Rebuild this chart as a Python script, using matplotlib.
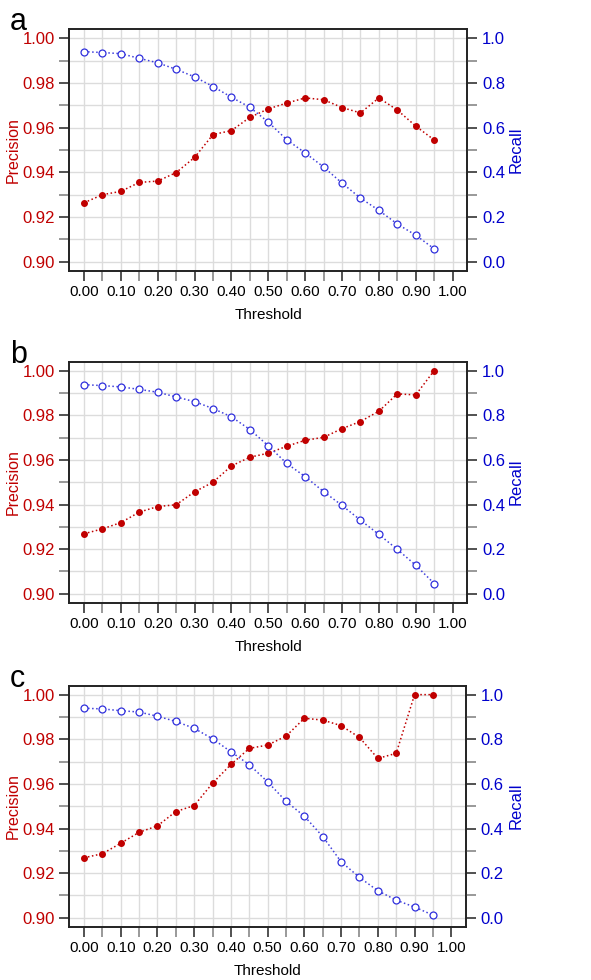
import numpy as np
import matplotlib
matplotlib.use("Agg")
import matplotlib.pyplot as plt
from matplotlib.ticker import MultipleLocator, FormatStrFormatter

plt.rcParams['font.family'] = ['Liberation Sans', 'DejaVu Sans']

# thresholds
threshold = [0.00, 0.05, 0.10, 0.15, 0.20, 0.25, 0.30, 0.35, 0.40, 0.45,
             0.50, 0.55, 0.60, 0.65, 0.70, 0.75, 0.80, 0.85, 0.90, 0.95]

# panel a
prec_a = [0.9264, 0.9300, 0.9315, 0.9355, 0.9361, 0.9399, 0.9467, 0.9569, 0.9587, 0.9646,
          0.9684, 0.9710, 0.9733, 0.9725, 0.9690, 0.9666, 0.9733, 0.9679, 0.9607, 0.9545]
rec_a = [0.940, 0.936, 0.931, 0.910, 0.890, 0.861, 0.827, 0.784, 0.736, 0.691,
         0.625, 0.546, 0.487, 0.424, 0.352, 0.285, 0.230, 0.169, 0.119, 0.058]

# panel b
prec_b = [0.9269, 0.9291, 0.9319, 0.9366, 0.9391, 0.9399, 0.9457, 0.9500, 0.9573, 0.9612,
          0.9630, 0.9661, 0.9688, 0.9701, 0.9740, 0.9772, 0.9818, 0.9896, 0.9891, 1.0000]
rec_b = [0.937, 0.933, 0.927, 0.916, 0.903, 0.882, 0.861, 0.830, 0.793, 0.736,
         0.663, 0.584, 0.525, 0.458, 0.396, 0.330, 0.266, 0.199, 0.128, 0.046]

# panel c
prec_c = [0.9269, 0.9287, 0.9334, 0.9383, 0.9412, 0.9476, 0.9503, 0.9603, 0.9687, 0.9759,
          0.9774, 0.9814, 0.9894, 0.9886, 0.9861, 0.9808, 0.9714, 0.9737, 1.0000, 1.0000]
rec_c = [0.939, 0.936, 0.928, 0.922, 0.903, 0.880, 0.849, 0.802, 0.744, 0.686,
         0.609, 0.522, 0.455, 0.364, 0.251, 0.181, 0.121, 0.079, 0.048, 0.012]

panels = [("a", prec_a, rec_a), ("b", prec_b, rec_b), ("c", prec_c, rec_c)]
# axes boxes in pixels (left, top, right, bottom) for a 591x980 figure
boxes = [(69.3, 29.3, 467.3, 270.7), (69.3, 361.7, 467.3, 602.7), (69.3, 685.7, 466.0, 926.7)]

RED = "#C00000"
BLUE = "#0000CC"
W, H = 591, 980

fig = plt.figure(figsize=(W / 100, H / 100), dpi=100)

for (letter, prec, rec), (l, t, r, b) in zip(panels, boxes):
    ax = fig.add_axes([l / W, 1 - b / H, (r - l) / W, (b - t) / H])
    ax2 = ax.twinx()

    ax.set_xlim(-0.04, 1.04)
    ax.set_ylim(0.896, 1.004)
    ax2.set_ylim(-0.04, 1.04)

    ax.xaxis.set_major_locator(MultipleLocator(0.1))
    ax.xaxis.set_minor_locator(MultipleLocator(0.05))
    ax.xaxis.set_major_formatter(FormatStrFormatter("%.2f"))
    ax.yaxis.set_major_locator(MultipleLocator(0.02))
    ax.yaxis.set_minor_locator(MultipleLocator(0.01))
    ax.yaxis.set_major_formatter(FormatStrFormatter("%.2f"))
    ax2.yaxis.set_major_locator(MultipleLocator(0.2))
    ax2.yaxis.set_minor_locator(MultipleLocator(0.1))
    ax2.yaxis.set_major_formatter(FormatStrFormatter("%.1f"))

    ax.grid(True, which="both", color="#DCDCDC", lw=1.0)
    ax.set_axisbelow(True)

    ax.tick_params(which="major", length=7, width=1.2, color="#333333", labelsize=11)
    ax.tick_params(which="minor", length=7, width=1.2, color="#888888")
    ax.tick_params(axis="y", labelcolor=RED, labelsize=12)
    ax2.tick_params(which="major", length=7, width=1.2, color="#333333", labelsize=12, labelcolor=BLUE)
    ax2.tick_params(which="minor", length=7, width=1.2, color="#888888")

    for sp in list(ax.spines.values()) + list(ax2.spines.values()):
        sp.set_color("#222222")
        sp.set_linewidth(1.2)

    ax.plot(threshold, prec, ls=":", lw=1.1, color=RED, marker="o", ms=4,
            mfc=RED, mec=RED, zorder=3)
    ax2.plot(threshold, rec, ls=":", lw=1.1, color="#4040DD", marker="o", ms=5,
             mfc="white", mec="#3030DD", mew=0.9, zorder=3)

    ax.set_xlabel("Threshold", fontsize=11)
    ax.xaxis.set_label_coords(0.5, -37 / (b - t))
    ax.set_ylabel("Precision", fontsize=11.5, color=RED)
    ax.yaxis.set_label_coords((21 - l) / (r - l), 0.5)
    ax2.set_ylabel("Recall", fontsize=12, color=BLUE)
    ax2.yaxis.set_label_coords((509 - l) / (r - l), 0.5)

    fig.text(10 / W, 1 - (t - 7) / H, letter, fontsize=22, ha="left", va="center")

fig.savefig("out.png", dpi=100)
